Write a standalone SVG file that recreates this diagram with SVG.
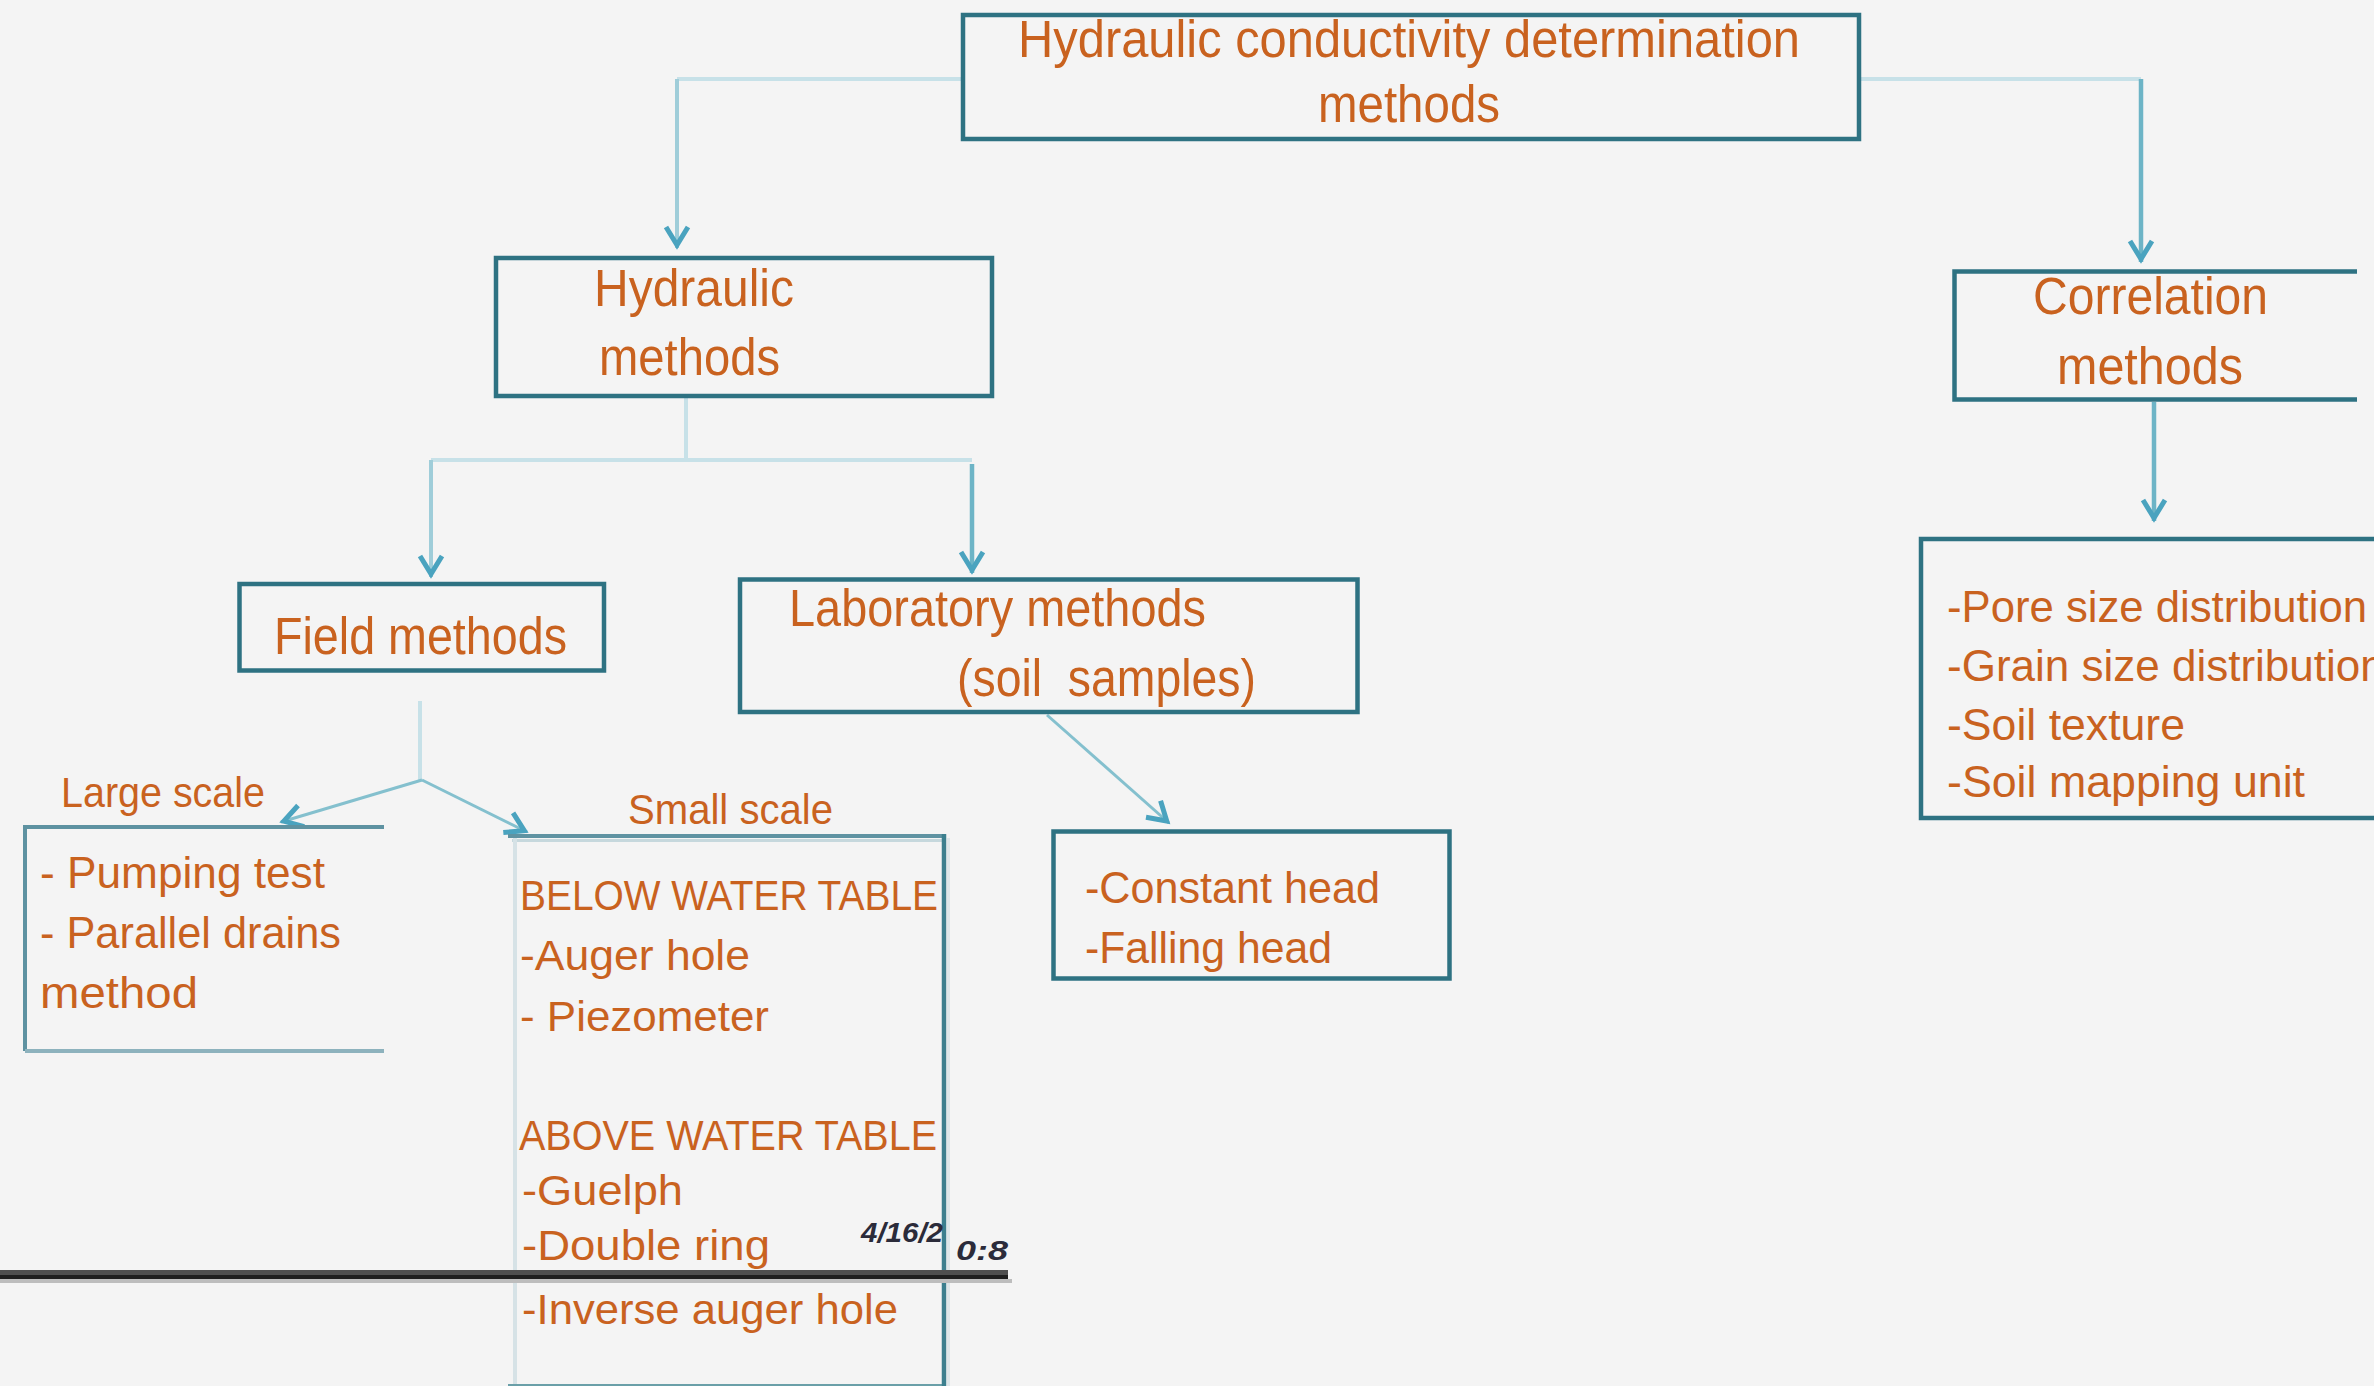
<svg xmlns="http://www.w3.org/2000/svg" width="2374" height="1386" viewBox="0 0 2374 1386">
<defs>
<style>
.t{font-family:"Liberation Sans",Arial,sans-serif;fill:#c9621f}
.s51{font-size:51px}
.s45{font-size:45px}
.s44{font-size:44px}
.s42{font-size:42px}
.box{fill:none;stroke:#2e7282;stroke-width:4.5}
.cl{fill:none;stroke:#c7e1e8;stroke-width:4}
.cm{fill:none;stroke:#9fcdd9;stroke-width:4}
.cd{fill:none;stroke:#6db4c6;stroke-width:4.5}
.cg{fill:none;stroke:#84c0ce;stroke-width:3}
.ts{font-family:"Liberation Sans",Arial,sans-serif;font-style:italic;font-weight:bold;font-size:28px;fill:#2b2b3a}
</style>
<marker id="ah" viewBox="-28 -16 36 32" refX="0" refY="0" markerWidth="36" markerHeight="32" markerUnits="userSpaceOnUse" orient="auto">
<path d="M-21,-11 L-3,0 L-21,11" fill="none" stroke="#4aa3bf" stroke-width="5"/>
</marker>
</defs>
<rect x="0" y="0" width="2374" height="1386" fill="#f4f4f4"/>

<g id="connectors">
<path class="cl" d="M963,79 H677"/>
<path class="cm" d="M677,79 V248" marker-end="url(#ah)"/>
<path class="cl" d="M1859,79 H2141"/>
<path class="cd" d="M2141,79 V262" marker-end="url(#ah)"/>
<path class="cl" d="M686,396 V460 M431,460 H972"/>
<path class="cm" d="M431,460 V577" marker-end="url(#ah)"/>
<path class="cd" d="M972,464 V573" marker-end="url(#ah)"/>
<path class="cl" d="M420,701 V780"/>
<path class="cg" d="M422,780 L281,822" marker-end="url(#ah)"/>
<path class="cg" d="M422,780 L527,832" marker-end="url(#ah)"/>
<path class="cg" d="M1047,715 L1169,823" marker-end="url(#ah)"/>
<path class="cd" d="M2154,402 V521" marker-end="url(#ah)"/>
</g>

<g id="node-top">
<rect class="box" x="963" y="15" width="896" height="124"/>
<text class="t s51" x="1018" y="57" textLength="782" lengthAdjust="spacingAndGlyphs">Hydraulic conductivity determination</text>
<text class="t s51" x="1318" y="122" textLength="182" lengthAdjust="spacingAndGlyphs">methods</text>
</g>

<g id="node-hydraulic">
<rect class="box" x="496" y="258" width="496" height="138"/>
<text class="t s51" x="594" y="306" textLength="200" lengthAdjust="spacingAndGlyphs">Hydraulic</text>
<text class="t s51" x="599" y="375" textLength="181" lengthAdjust="spacingAndGlyphs">methods</text>
</g>

<g id="node-correlation">
<path class="box" d="M2357,271.5 H1954.5 V399.5 H2357"/>
<text class="t s51" x="2033" y="314" textLength="235" lengthAdjust="spacingAndGlyphs">Correlation</text>
<text class="t s51" x="2057" y="384" textLength="186" lengthAdjust="spacingAndGlyphs">methods</text>
</g>

<g id="node-field">
<rect class="box" x="239.5" y="584" width="364.5" height="86.5"/>
<text class="t s51" x="274" y="654" textLength="293" lengthAdjust="spacingAndGlyphs">Field methods</text>
</g>

<g id="node-lab">
<rect class="box" x="740" y="579.5" width="617.5" height="132.5"/>
<text class="t s51" x="789" y="626" textLength="417" lengthAdjust="spacingAndGlyphs">Laboratory methods</text>
<text class="t s51" x="957" y="696" textLength="299" lengthAdjust="spacingAndGlyphs" xml:space="preserve">(soil  samples)</text>
</g>

<g id="node-pore">
<path class="box" d="M2380,539 H1921 V818 H2380"/>
<text class="t s44" x="1947" y="622" textLength="420" lengthAdjust="spacingAndGlyphs">-Pore size distribution</text>
<text class="t s44" x="1947" y="681">-Grain size distribution</text>
<text class="t s44" x="1947" y="740" textLength="238" lengthAdjust="spacingAndGlyphs">-Soil texture</text>
<text class="t s44" x="1947" y="797" textLength="358" lengthAdjust="spacingAndGlyphs">-Soil mapping unit</text>
</g>

<g id="node-constant">
<rect class="box" x="1053.5" y="831.5" width="396" height="147"/>
<text class="t s45" x="1085" y="903" textLength="295" lengthAdjust="spacingAndGlyphs">-Constant head</text>
<text class="t s45" x="1085" y="963" textLength="247" lengthAdjust="spacingAndGlyphs">-Falling head</text>
</g>

<g id="label-large">
<text class="t s42" x="61" y="807" textLength="204" lengthAdjust="spacingAndGlyphs">Large scale</text>
</g>
<g id="label-small">
<text class="t s42" x="628" y="824" textLength="205" lengthAdjust="spacingAndGlyphs">Small scale</text>
</g>

<g id="node-large">
<path fill="none" stroke="#5e92a1" stroke-width="4" d="M384,827 H25 V1051"/>
<path fill="none" stroke="#8db2bd" stroke-width="4" d="M25,1051 H384"/>
<text class="t s44" x="40" y="888" textLength="285" lengthAdjust="spacingAndGlyphs">- Pumping test</text>
<text class="t s44" x="40" y="948" textLength="301" lengthAdjust="spacingAndGlyphs">- Parallel drains</text>
<text class="t s44" x="40" y="1008" textLength="158" lengthAdjust="spacingAndGlyphs">method</text>
</g>

<g id="node-small">
<path fill="none" stroke="#c6d8dd" stroke-width="3" d="M512,840.5 H946"/>
<path fill="none" stroke="#d6e2e6" stroke-width="4" d="M515,838 V1386"/>
<path fill="none" stroke="#6a9fa8" stroke-width="2" d="M508,1385 H944"/>
<path fill="none" stroke="#5f93a2" stroke-width="4" d="M508,836 H946"/>
<path fill="none" stroke="#dde6e9" stroke-width="3" d="M948.5,838 V1386"/>
<path fill="none" stroke="#3c7f8e" stroke-width="4.5" d="M944,834 V1386"/>
<text class="t s42" x="520" y="910" textLength="418" lengthAdjust="spacingAndGlyphs">BELOW WATER TABLE</text>
<text class="t s42" x="520" y="970" textLength="230" lengthAdjust="spacingAndGlyphs">-Auger hole</text>
<text class="t s42" x="520" y="1031" textLength="249" lengthAdjust="spacingAndGlyphs">- Piezometer</text>
<text class="t s42" x="519" y="1150" textLength="418" lengthAdjust="spacingAndGlyphs">ABOVE WATER TABLE</text>
<text class="t s42" x="522" y="1205" textLength="161" lengthAdjust="spacingAndGlyphs">-Guelph</text>
<text class="t s42" x="522" y="1260" textLength="248" lengthAdjust="spacingAndGlyphs">-Double ring</text>
<text class="t s42" x="522" y="1324" textLength="376" lengthAdjust="spacingAndGlyphs">-Inverse auger hole</text>
</g>

<g id="overlay">
<rect x="0" y="1270" width="1008" height="5" fill="#4f4f4f"/>
<rect x="0" y="1275" width="1008" height="4" fill="#1f1f1f"/>
<rect x="0" y="1279" width="1012" height="4" fill="#bdbdbd"/>
<text class="ts" x="861" y="1242" textLength="82" lengthAdjust="spacingAndGlyphs">4/16/2</text>
<text class="ts" x="956" y="1260" textLength="52" lengthAdjust="spacingAndGlyphs">0:8</text>
</g>
</svg>
